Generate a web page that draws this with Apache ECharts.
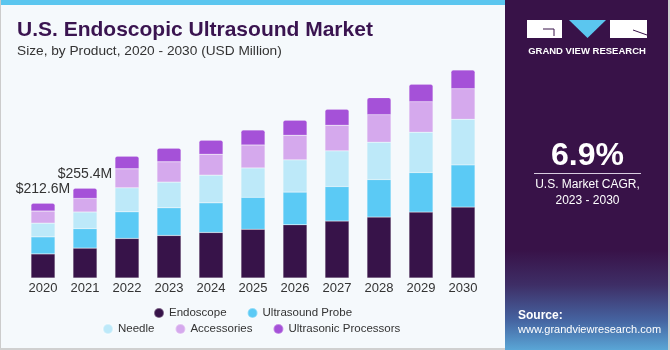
<!DOCTYPE html>
<html>
<head>
<meta charset="utf-8">
<script src="https://cdn.jsdelivr.net/npm/echarts@6/dist/echarts.min.js"></script>
<style>
html,body{margin:0;padding:0;background:#f5f9fc;}
#c{width:670px;height:350px;}
</style>
</head>
<body>
<div id="c"></div>
<script>
const years = ['2020','2021','2022','2023','2024','2025','2026','2027','2028','2029','2030'];
const endoscope = [68.5, 85.0, 112.5, 121.0, 129.5, 138.6, 151.4, 161.9, 173.2, 187.4, 201.6];
const ultrasoundProbe = [48.5, 55.5, 75.8, 78.7, 84.3, 90.9, 92.9, 98.3, 106.8, 112.5, 120.1];
const needle = [39.0, 47.2, 68.2, 73.0, 78.7, 83.5, 91.7, 101.4, 106.2, 114.7, 129.8];
const accessories = [34.3, 38.7, 54.0, 57.7, 59.6, 65.3, 70.1, 73.0, 78.4, 86.9, 86.9];
const processors = [22.3, 29.0, 36.1, 38.9, 39.8, 42.6, 42.6, 45.4, 48.3, 49.4, 53.1];
const totalLabels = ['$212.6M', '$255.4M', '', '', '', '', '', '', '', '', ''];

const names = ['Endoscope', 'Ultrasound Probe', 'Needle', 'Accessories', 'Ultrasonic Processors'];
const colors = ['#371349', '#5bcaf5', '#bde9f9', '#d5a9ed', '#a551d8'];
const seriesData = [endoscope, ultrasoundProbe, needle, accessories, processors];

const chart = echarts.init(document.getElementById('c'), null, {renderer: 'canvas'});

const series = seriesData.map((d, i) => {
  const s = {
    name: names[i],
    type: 'bar',
    stack: 'total',
    barWidth: 24,
    data: d,
    itemStyle: {color: colors[i], borderColor: 'rgba(255,255,255,0.35)', borderWidth: 0.5},
    emphasis: {disabled: true}
  };
  if (i === 4) {
    s.itemStyle.borderRadius = [2, 2, 0, 0];
    s.label = {
      show: true,
      position: 'top',
      distance: 7,
      color: '#333',
      fontFamily: 'Liberation Sans',
      fontSize: 14,
      formatter: p => totalLabels[p.dataIndex]
    };
  }
  return s;
});

const font = 'Liberation Sans';
const legendText = {fontFamily: font, fontSize: 11.5, color: '#333'};
chart.setOption({
  backgroundColor: '#f5f9fc',
  animation: false,
  title: [{
    text: 'U.S. Endoscopic Ultrasound Market',
    left: 12, top: 15,
    textStyle: {fontFamily: font, fontWeight: 'bold', fontSize: 21, color: '#3a1450'}
  }, {
    text: 'Size, by Product, 2020 - 2030 (USD Million)',
    left: 12, top: 39,
    textStyle: {fontFamily: font, fontWeight: 'normal', fontSize: 13.7, color: '#333'}
  }],
  grid: {left: 22, width: 462, top: 60, height: 218},
  xAxis: {
    type: 'category',
    data: years,
    axisLine: {show: false},
    axisTick: {show: false},
    axisLabel: {color: '#333', fontFamily: font, fontSize: 13, margin: 4}
  },
  yAxis: {
    type: 'value', min: 0, max: 620,
    show: false
  },
  legend: [{
    data: names.slice(0, 2),
    left: 148, top: 302,
    icon: 'circle', itemWidth: 10, itemHeight: 10, itemGap: 20,
    textStyle: legendText,
    selectedMode: false
  }, {
    data: names.slice(2),
    left: 97, top: 318,
    icon: 'circle', itemWidth: 10, itemHeight: 10, itemGap: 20,
    textStyle: legendText,
    selectedMode: false
  }],
  graphic: [
    {type: 'rect', shape: {x: 0, y: 0, width: 506, height: 5}, style: {fill: '#5bc6ef'}, z: 10},
    {type: 'rect', shape: {x: 0, y: 0, width: 1, height: 350}, style: {fill: '#cccccc'}, z: 10},
    {type: 'rect', shape: {x: 0, y: 348, width: 506, height: 2}, style: {fill: '#d0d0d0'}, z: 10},
    {type: 'rect', shape: {x: 505, y: 0, width: 165, height: 350}, style: {fill: '#381248'}, z: 10},
    {type: 'rect', shape: {x: 505, y: 250, width: 165, height: 100}, style: {
      fill: {type: 'linear', x: 0, y: 0, x2: 0, y2: 1, colorStops: [
        {offset: 0, color: '#381248'}, {offset: 0.35, color: '#3e2e66'}, {offset: 0.7, color: '#4563a0'}, {offset: 1, color: '#5aa6d6'}]}
    }, z: 10},
    {type: 'rect', shape: {x: 668, y: 0, width: 2, height: 350}, style: {fill: '#d0d0d0'}, z: 11},
    // logo
    {type: 'rect', shape: {x: 527, y: 20, width: 35, height: 18}, style: {fill: '#ffffff'}, z: 11},
    {type: 'polyline', shape: {points: [[543, 29], [554, 29], [554, 36]]}, style: {stroke: '#381248', lineWidth: 1, fill: null}, z: 12},
    {type: 'polygon', shape: {points: [[569, 20], [606, 20], [587.5, 38]]}, style: {fill: '#5bc6ef'}, z: 11},
    {type: 'rect', shape: {x: 610, y: 20, width: 37, height: 18}, style: {fill: '#ffffff'}, z: 11},
    {type: 'line', shape: {x1: 633, y1: 30, x2: 647, y2: 35}, style: {stroke: '#381248', lineWidth: 1}, z: 12},
    {type: 'text', x: 587, y: 51, style: {text: 'GRAND VIEW RESEARCH', fill: '#ffffff', font: 'bold 9.5px "Liberation Sans"', align: 'center', verticalAlign: 'middle'}, z: 11},
    {type: 'text', x: 587.5, y: 156, style: {text: '6.9%', fill: '#ffffff', font: 'bold 32px "Liberation Sans"', align: 'center', verticalAlign: 'middle'}, z: 11},
    {type: 'rect', shape: {x: 534, y: 173, width: 107, height: 1}, style: {fill: '#d8cce0'}, z: 11},
    {type: 'text', x: 587.5, y: 185, style: {text: 'U.S. Market CAGR,', fill: '#ffffff', font: '12px "Liberation Sans"', align: 'center', verticalAlign: 'middle'}, z: 11},
    {type: 'text', x: 587.5, y: 201, style: {text: '2023 - 2030', fill: '#ffffff', font: '12px "Liberation Sans"', align: 'center', verticalAlign: 'middle'}, z: 11},
    {type: 'text', x: 518, y: 316, style: {text: 'Source:', fill: '#ffffff', font: 'bold 12px "Liberation Sans"', verticalAlign: 'middle'}, z: 11},
    {type: 'text', x: 518, y: 330, style: {text: 'www.grandviewresearch.com', fill: '#ffffff', font: '11px "Liberation Sans"', verticalAlign: 'middle'}, z: 11}
  ],
  series: series
});
</script>
</body>
</html>
